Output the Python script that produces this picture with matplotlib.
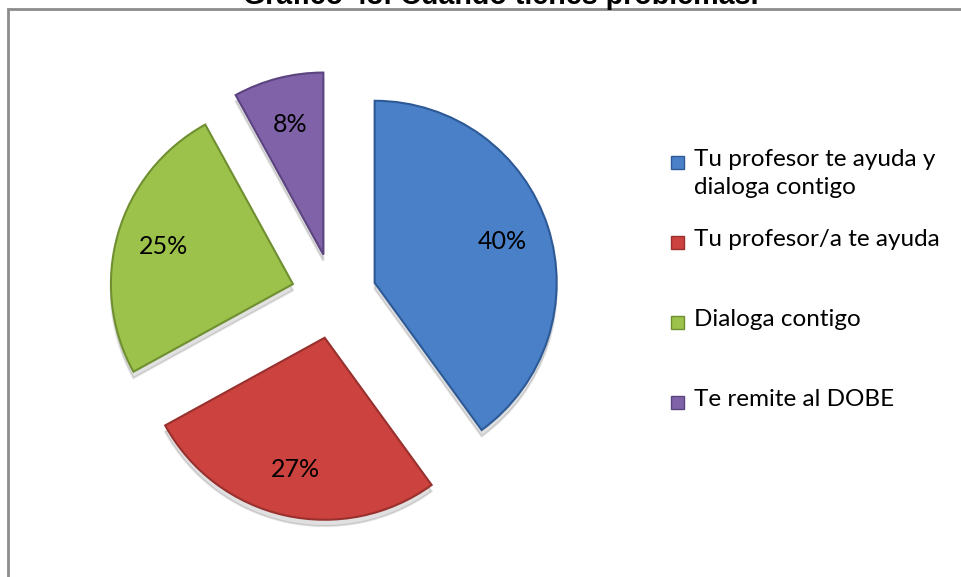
import numpy as np
import matplotlib.pyplot as plt
from matplotlib.patches import Rectangle

# data
labels = ["Tu profesor te ayuda y\ndialoga contigo", "Tu profesor/a te ayuda",
          "Dialoga contigo", "Te remite al DOBE"]
values = [40, 27, 25, 8]
colors = ["#4a80c8", "#cc423f", "#9cc24c", "#8062a8"]
edges = ["#2d5a96", "#98302d", "#6f8f30", "#5b4480"]
title = "Gráfico 43: Cuando tienes problemas."

plt.rcParams['font.family'] = ['Lato', 'DejaVu Sans']

W, H = 961, 577
fig = plt.figure(figsize=(W / 100, H / 100), dpi=100)
ax = fig.add_axes([0, 0, 1, 1])

# pie centre and radius in pixels
cx, cy, R = 334, 296, 182

wedges, texts, autotexts = ax.pie(values, colors=colors, startangle=90, counterclock=False,
                                  explode=[0.235] * 4, autopct='%1.0f%%', pctdistance=0.74,
                                  shadow=dict(ox=0.0, oy=-0.025, shade=0.95, alpha=0.12),
                                  wedgeprops=dict(linewidth=1.5),
                                  textprops=dict(fontsize=18, color='black'))
ax.set_xlim(-cx / R, (W - cx) / R)
ax.set_ylim(-(H - cy) / R, cy / R)
ax.set_aspect('equal')
ax.axis('off')

for w, ec in zip(wedges, edges):
    w.set_edgecolor(ec)

# frame
fig.patches.append(Rectangle((8 / W, -0.1), 1.1, (H - 9) / H + 0.1, transform=fig.transFigure,
                             fill=False, edgecolor='#8c8c8c', linewidth=2))

# title (cut off at the top, as in the original)
fig.text(501 / W, 1 - 4 / H, title, ha='center', va='baseline', fontsize=20.6,
         fontweight='bold', family=['Liberation Sans', 'DejaVu Sans'])

# legend
for i, (lab, c, ec) in enumerate(zip(labels, colors, edges)):
    y = 162 + 80 * i
    fig.patches.append(Rectangle((671 / W, 1 - (y + 7) / H), 13 / W, 13 / H,
                                 transform=fig.transFigure, facecolor=c, edgecolor=ec, linewidth=1))
    fig.text(694 / W, 1 - (y - 13) / H, lab, ha='left', va='top', fontsize=17.5, linespacing=1.4)

fig.savefig("out.png", dpi=100)
